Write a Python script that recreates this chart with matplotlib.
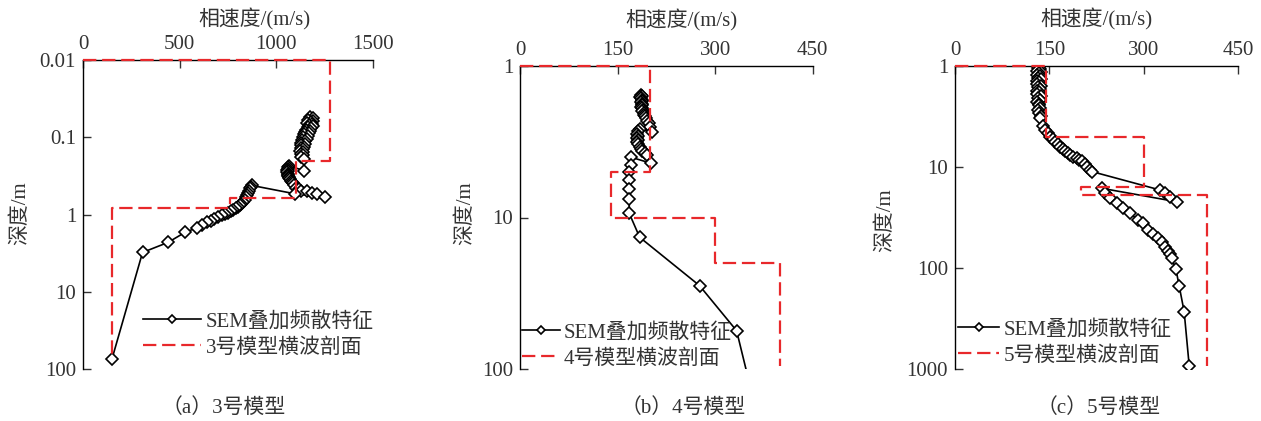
import numpy as np
import matplotlib
matplotlib.use("Agg")
import matplotlib.pyplot as plt
from matplotlib.ticker import FixedLocator, FixedFormatter, NullLocator

plt.rcParams['font.family'] = ['Liberation Serif', 'Noto Sans CJK SC']
plt.rcParams['font.size'] = 15
plt.rcParams['text.color'] = '#333333'
plt.rcParams['xtick.color'] = '#333333'
plt.rcParams['ytick.color'] = '#333333'

# ---- model 3 ----
sem3_v = [1174, 1188, 1165, 1192, 1178, 1160, 1185, 1170, 1190, 1162, 1180, 1155, 1175, 1150,
          1168, 1145, 1162, 1140, 1158, 1135, 1150, 1130, 1148, 1128, 1145, 1125, 1140, 1122,
          1138, 1125, 1140, 1130, 1145, 1143,
          1065, 1058, 1062, 1055, 1060, 1055, 1058, 1062, 1060, 1065, 1068, 1072, 1076, 1080,
          1085, 1090, 1100, 1115, 1130,
          1157, 1182, 1208, 1252, 1097,
          872, 868, 864, 860, 855, 850, 845, 838, 829, 818, 810, 803, 790, 778, 765,
          752, 735, 717, 698, 678, 660, 640, 615, 588, 528, 441, 308, 150]
sem3_d = [0.055, 0.057, 0.059, 0.061, 0.063, 0.065, 0.067, 0.069, 0.072, 0.074, 0.077, 0.080,
          0.083, 0.086, 0.089, 0.092, 0.096, 0.100, 0.104, 0.108, 0.112, 0.117, 0.122, 0.127,
          0.132, 0.138, 0.144, 0.150, 0.157, 0.164, 0.172, 0.180, 0.19, 0.27,
          0.235, 0.245, 0.255, 0.265, 0.275, 0.285, 0.295, 0.305, 0.315, 0.325, 0.335, 0.35,
          0.365, 0.38, 0.395, 0.42, 0.45, 0.47, 0.49,
          0.50, 0.52, 0.55, 0.60, 0.54,
          0.42, 0.44, 0.46, 0.49, 0.52, 0.56, 0.60, 0.64, 0.69, 0.73, 0.76, 0.79, 0.83, 0.87, 0.91,
          0.96, 0.99, 1.03, 1.08, 1.14, 1.20, 1.26, 1.37, 1.49, 1.70, 2.29, 3.1, 74]
prof3_v = [1280, 1100, 760, 150]
prof3_d = [0.01, 0.2, 0.62, 0.83, 74]

# ---- model 4 ----
sem4_v = [186, 187, 185, 186, 188, 187, 186, 188, 187, 186, 188, 189, 188, 190, 191, 192,
          194, 196, 198, 200, 203,
          185, 181, 180, 181, 180, 181, 180, 182, 184, 186, 188, 192, 196, 202,
          170, 170, 168, 168, 168, 168, 168, 184, 276, 333, 352]
sem4_d = [1.55, 1.58, 1.61, 1.64, 1.67, 1.70, 1.74, 1.78, 1.82, 1.86, 1.90, 1.95, 2.00, 2.05,
          2.10, 2.16, 2.22, 2.30, 2.40, 2.55, 2.75,
          2.60, 2.70, 2.80, 2.90, 3.00, 3.10, 3.20, 3.30, 3.42, 3.52, 3.62, 3.75, 3.90, 4.40,
          4.0, 4.5, 5.0, 5.66, 6.5, 7.6, 9.4, 13.5, 28.1, 55.7, 120]
prof4_v = [200, 140, 300, 400]
prof4_d = [1, 5, 10, 20, 95]

# ---- model 5 ----
sem5_v = [134, 132, 135, 131, 136, 133, 130, 135, 132, 137, 131, 134, 130, 136, 132, 135,
          131, 134, 130, 136, 132, 135, 131, 134, 133, 135, 132, 134, 136, 135,
          139, 143, 147, 151, 155, 159, 163, 167, 171, 175, 179, 183, 188, 193, 197, 201,
          206, 210, 214, 218,
          325, 333, 341, 352,
          233, 238, 246, 257, 267, 278, 291, 298, 307, 315, 323, 329, 334, 339, 342, 344,
          351, 356, 364, 372]
sem5_d = [1.02, 1.05, 1.08, 1.11, 1.14, 1.18, 1.22, 1.26, 1.30, 1.35, 1.40, 1.45, 1.50, 1.56,
          1.62, 1.68, 1.75, 1.82, 1.90, 1.98, 2.06, 2.15, 2.25, 2.35, 2.45, 2.58, 2.72, 2.90,
          3.10, 3.30,
          3.9, 4.3, 4.65, 5.0, 5.3, 5.6, 5.95, 6.3, 6.65, 7.0, 7.3, 7.6, 7.9, 8.2, 8.5, 8.8,
          9.4, 10.0, 10.7, 11.1,
          16.8, 18.2, 19.6, 22.0,
          16.2, 18.2, 20.4, 22.8, 25.5, 28.7, 33.4, 36.0, 41.9, 46.0, 50.6, 55.5, 61.2, 67, 73,
          79.8, 103, 149, 269, 921]
prof5_v = [145, 300, 200, 400]
prof5_d = [1, 5, 15.6, 19, 930]

panels = [
    dict(sem=(sem3_v, sem3_d), prof=(prof3_v, prof3_d), xmax=1500, xticks=[0, 500, 1000, 1500],
         ylim=(0.01, 100), yticks=[0.01, 0.1, 1, 10, 100], ylabels=['0.01', '0.1', '1', '10', '100'],
         rect=[83, 60, 373, 369], xlab=(0.59, 1.13), ylab=(-0.217, 0.505),
         leg=(0.207, 0.185), hl=2.8, name='3号模型横波剖面', cap=(224, '（a）3号模型')),
    dict(sem=(sem4_v, sem4_d), prof=(prof4_v, prof4_d), xmax=450, xticks=[0, 150, 300, 450],
         ylim=(1, 100), yticks=[1, 10, 100], ylabels=['1', '10', '100'],
         rect=[520, 65.7, 812.7, 369.3], xlab=(0.55, 1.15), ylab=(-0.188, 0.515),
         leg=(0.007, 0.153), hl=1.8, name='4号模型横波剖面', cap=(683, '（b）4号模型')),
    dict(sem=(sem5_v, sem5_d), prof=(prof5_v, prof5_d), xmax=450, xticks=[0, 150, 300, 450],
         ylim=(1, 1000), yticks=[1, 10, 100, 1000], ylabels=['1', '10', '100', '1000'],
         rect=[955, 66, 1238.3, 369.3], xlab=(0.50, 1.152), ylab=(-0.247, 0.49),
         leg=(0.01, 0.163), hl=2.0, name='5号模型横波剖面', cap=(1099, '（c）5号模型')),
]

W, H = 1261, 421
fig = plt.figure(figsize=(W / 100, H / 100), dpi=100)

for p in panels:
    x0, y0, x1, y1 = p['rect']
    ax = fig.add_axes([x0 / W, 1 - y1 / H, (x1 - x0) / W, (y1 - y0) / H])

    # step profile from layer velocities / boundaries
    pv, pd = p['prof']
    sx, sy = [0], [pd[0]]
    for i, v in enumerate(pv):
        sx += [v, v]
        sy += [pd[i], pd[i + 1]]
    ax.plot(sx, sy, color='#e8282b', lw=1.6, dashes=[6, 2.6], zorder=4, clip_on=False,
            label=p['name'])

    sv, sd = p['sem']
    ax.plot(sv, sd, color='black', lw=1.2, marker='D', ms=6.2, mfc='white', mec='black',
            mew=1.2, zorder=3, label='SEM叠加频散特征')

    ax.set_yscale('log')
    ax.set_ylim(p['ylim'][1], p['ylim'][0])
    ax.set_xlim(0, p['xmax'])
    ax.yaxis.set_major_locator(FixedLocator(p['yticks']))
    ax.yaxis.set_major_formatter(FixedFormatter(p['ylabels']))
    ax.yaxis.set_minor_locator(NullLocator())
    ax.set_xticks(p['xticks'])
    ax.xaxis.tick_top()
    ax.tick_params(axis='both', direction='in', length=6, width=1.0, labelsize=15)
    ax.tick_params(axis='x', pad=4)
    ax.tick_params(axis='y', pad=5)
    for s in ['right', 'bottom']:
        ax.spines[s].set_visible(False)
    for s in ['left', 'top']:
        ax.spines[s].set_linewidth(1.0)

    ax.text(p['xlab'][0], p['xlab'][1], '相速度/(m/s)', transform=ax.transAxes,
            ha='center', va='center', fontsize=15)
    ax.text(p['ylab'][0], p['ylab'][1], '深度/m', transform=ax.transAxes,
            ha='center', va='center', rotation=90, fontsize=15)

    h, l = ax.get_legend_handles_labels()
    ax.legend(h[::-1], l[::-1], loc='upper left', bbox_to_anchor=p['leg'], frameon=False,
              borderpad=0, borderaxespad=0, handlelength=p['hl'], handletextpad=0.2,
              labelspacing=0.3, markerscale=0.6, numpoints=1, fontsize=15)

    fig.text(p['cap'][0] / W, 1 - 408 / H, p['cap'][1], ha='center', va='center', fontsize=15)

fig.savefig('out.png', dpi=100)
